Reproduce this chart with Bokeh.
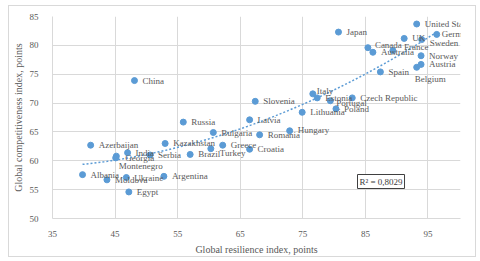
import numpy as np
from bokeh.plotting import figure
from bokeh.models import ColumnDataSource, Range1d, FixedTicker, Label, LabelSet
from bokeh.embed import file_html
from bokeh.resources import INLINE

countries = ["United States", "Japan", "UK", "Germany", "Sweden", "France", "Canada",
             "Australia", "Norway", "Austria", "Belgium", "Spain", "Italy", "Estonia",
             "Portugal", "Czech Republic", "Poland", "Lithuania", "Slovenia", "Latvia",
             "Russia", "Bulgaria", "Romania", "Hungary", "Kazakhstan", "Greece", "Turkey",
             "Croatia", "Brazil", "Serbia", "Azerbaijan", "India", "Georgia", "Montenegro",
             "Albania", "Moldova", "Ukraine", "Argentina", "Egypt", "China"]
resilience = [93.2, 80.7, 91.2, 96.4, 94.0, 89.4, 85.4,
              86.2, 93.9, 93.9, 93.2, 87.4, 76.6, 77.3,
              79.4, 82.9, 80.3, 74.9, 67.4, 66.5,
              55.9, 60.7, 68.1, 72.9, 53.0, 62.2, 60.3,
              66.5, 57.0, 50.6, 41.1, 47.0, 45.2, 45.1,
              39.8, 43.7, 46.8, 52.8, 47.2, 48.1]
competitiveness = [83.7, 82.3, 81.2, 81.9, 81.0, 79.1, 79.6,
                   78.8, 78.2, 76.7, 76.2, 75.4, 71.6, 70.9,
                   70.4, 70.9, 69.0, 68.4, 70.3, 67.1,
                   66.7, 64.9, 64.5, 65.2, 63.0, 62.7, 62.1,
                   62.0, 61.1, 61.0, 62.7, 61.4, 60.8, 60.5,
                   57.6, 56.7, 57.1, 57.3, 54.6, 73.9]
x_ticks = [35, 45, 55, 65, 75, 85, 95]
y_ticks = [50, 55, 60, 65, 70, 75, 80, 85]
r2_text = "R² = 0,8029"

label_offsets = {
    "Germany": (5, 0), "Sweden": (8, -3), "France": (11, 4), "Canada": (7, 3),
    "Belgium": (-2, -12), "Italy": (4, 3), "Portugal": (6, -2), "Turkey": (9, -4),
    "Georgia": (9, -2), "Montenegro": (3, -8), "Hungary": (8, 1),
}
xo = [label_offsets.get(c, (8, 0))[0] for c in countries]
yo = [label_offsets.get(c, (8, 0))[1] for c in countries]

src = ColumnDataSource(dict(x=resilience, y=competitiveness, name=countries, xo=xo, yo=yo))

FONT = "Liberation Serif"
GRAY = "#595959"
GRID = "#d9d9d9"
BLUE = "#5b9bd5"

p = figure(width=466, height=250, output_backend="svg", toolbar_location=None,
           x_range=Range1d(35, 100.2), y_range=Range1d(50, 85),
           min_border_left=42, min_border_right=17, min_border_top=10, min_border_bottom=40)
p.styles = {"margin-left": "8px", "margin-top": "5px",
            "border": "1px solid #d9d9d9", "box-sizing": "content-box"}
p.outline_line_color = None
p.background_fill_color = "white"
p.border_fill_color = "white"

for ax in (p.xaxis[0], p.yaxis[0]):
    ax.major_tick_line_color = None
    ax.minor_tick_line_color = None
    ax.axis_line_color = GRID
    ax.major_label_text_font = FONT
    ax.major_label_text_font_size = "9px"
    ax.major_label_text_color = GRAY
    ax.axis_label_text_font = FONT
    ax.axis_label_text_font_size = "10px"
    ax.axis_label_text_font_style = "normal"
    ax.axis_label_text_color = GRAY

p.xaxis.ticker = FixedTicker(ticks=x_ticks)
p.yaxis.ticker = FixedTicker(ticks=y_ticks)
p.xaxis.axis_label = "Global resilience index, points"
p.yaxis.axis_label = "Global competitiveness index, points"
p.xaxis.major_label_standoff = 6
p.yaxis.major_label_standoff = 8
p.xaxis.axis_label_standoff = 4
p.yaxis.axis_label_standoff = 3
p.xgrid.ticker = FixedTicker(ticks=x_ticks)
p.ygrid.ticker = FixedTicker(ticks=y_ticks)
p.grid.grid_line_color = GRID

xa = np.array(resilience)
ya = np.array(competitiveness)
coef = np.polyfit(xa, ya, 2)
tx = np.linspace(xa.min(), xa.max(), 100)
p.line(tx, np.polyval(coef, tx), line_color=BLUE, line_width=1.5, line_dash="2 2")

p.scatter("x", "y", source=src, size=6, fill_color=BLUE, line_color=BLUE)
labels = LabelSet(x="x", y="y", text="name", source=src, x_offset="xo", y_offset="yo",
                  text_font_size="9px", text_color=GRAY, text_align="left",
                  text_baseline="middle", text_font=FONT)
p.add_layout(labels)

lab = Label(x=305, y=30, x_units="screen", y_units="screen", text=r2_text,
            text_font=FONT, text_font_size="9px", text_color="#404040",
            border_line_color="#404040", border_line_width=1,
            background_fill_color="white", padding=2)
p.add_layout(lab)

open("out.html", "w").write(file_html(p, INLINE))
